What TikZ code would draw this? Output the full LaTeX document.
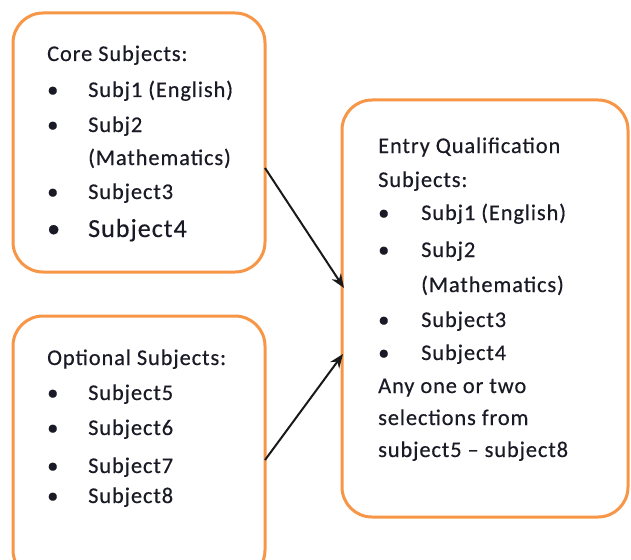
\documentclass[tikz,border=0pt]{standalone}
\usepackage{fontspec}
\setmainfont{Carlito}[LetterSpace=4,FakeBold=0.4]
\usetikzlibrary{arrows.meta}
\definecolor{boxorange}{HTML}{F79646}
\definecolor{txt}{HTML}{1A1A26}
\tikzset{
  box/.style={draw=boxorange, line width=3pt, rounded corners=30pt, fill=white},
  line/.style={anchor=base west, inner sep=0pt, text=txt, font=\fontsize{22.4}{26}\selectfont},
  bigline/.style={line, font=\fontsize{26}{30}\selectfont},
  arr/.style={draw=black!90, line width=2pt, -{Stealth[length=14pt,width=11pt]}}
}
\begin{document}
\begin{tikzpicture}[x=1pt,y=-1pt]
\useasboundingbox (0,0) rectangle (631,559);
% boxes
\draw[box] (13,13) rectangle (265,272);
\draw[box] (13,316) rectangle (265,580);
\draw[box] (342,100) rectangle (628,517);
\coordinate (b1) at (265,168);
\coordinate (b2) at (265,460);
\coordinate (t1) at (344,288);
\coordinate (t2) at (343,354);
% box 1
\node[line] (c0) at (47,61) {Core Subjects:};
\node[line] (c1b) at (47,97) {•};
\node[line] (c1) at (88,97) {Subj1 (English)};
\node[line] (c2b) at (47,132) {•};
\node[line] (c2) at (88,132) {Subj2};
\node[line] (c2m) at (88,165) {(Mathematics)};
\node[line] (c3b) at (47,199) {•};
\node[line] (c3) at (88,199) {Subject3};
\node[bigline] (c4b) at (47,237) {•};
\node[bigline] (c4) at (88,237) {Subject4};
% box 2
\node[line] (o0) at (47,365) {Optional Subjects:};
\node[line] (o5b) at (47,400) {•};
\node[line] (o5) at (88,400) {Subject5};
\node[line] (o6b) at (47,435) {•};
\node[line] (o6) at (88,435) {Subject6};
\node[line] (o7b) at (47,473) {•};
\node[line] (o7) at (88,473) {Subject7};
\node[line] (o8b) at (47,503) {•};
\node[line] (o8) at (88,503) {Subject8};
% box 3
\node[line] (e0) at (378,153) {Entry Qualification};
\node[line] (e0b) at (378,187) {Subjects:};
\node[line] (e1b) at (378,220) {•};
\node[line] (e1) at (421,220) {Subj1 (English)};
\node[line] (e2b) at (378,257) {•};
\node[line] (e2) at (421,257) {Subj2};
\node[line] (e2m) at (421,292) {(Mathematics)};
\node[line] (e3b) at (378,327) {•};
\node[line] (e3) at (421,327) {Subject3};
\node[line] (e4b) at (378,360) {•};
\node[line] (e4) at (421,360) {Subject4};
\node[line] (a1) at (378,393) {Any one or two};
\node[line] (a2) at (378,425) {selections from};
\node[line] (a3) at (378,457) {subject5 – subject8};
% arrows
\draw[arr] (b1) -- (t1);
\draw[arr] (b2) -- (t2);
\end{tikzpicture}
\end{document}
